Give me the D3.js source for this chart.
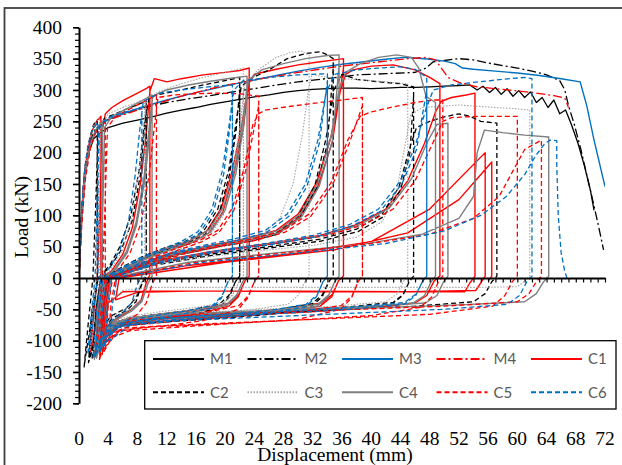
<!DOCTYPE html>
<html>
<head>
<meta charset="utf-8">
<script src="https://cdn.jsdelivr.net/npm/d3@7"></script>
<style>
  body { margin: 0; background: #fff; }
  svg { display: block; }
  .serif { font-family: "Liberation Serif", "DejaVu Serif", "Noto Serif", "Times New Roman", Times, serif; font-size: 19.5px; fill: #000; }
  .leg { font-family: Lato, "Open Sans", sans-serif; font-size: 15px; fill: #595959; }
</style>
</head>
<body>
<div id="plot"></div>
<script>
// Load-displacement curves, monotonic (M) and cyclic (C) specimens

const seriesNames = ["M1", "M2", "M3", "M4", "C1", "C2", "C3", "C4", "C5", "C6"];
const xTickValues = [0, 4, 8, 12, 16, 20, 24, 28, 32, 36, 40, 44, 48, 52, 56, 60, 64, 68, 72];
const yTickValues = [-200, -150, -100, -50, 0, 50, 100, 150, 200, 250, 300, 350, 400];

// [displacement mm, load kN]
const m1 = [[0,0],[0.3,80],[0.7,150],[1.2,195],[2,222],[3,232],[4,240],[6,247],[8,252],[10,257],[12,263],[14,268],[16,272],[18,277],[20,281],[22,285],[24,289],[26,292],[28,296],[30,299],[32,301],[34,302],[36,303],[38,303],[40,302],[42,303],[44,304],[46,304],[48,305],[50,306],[52,307],[53.5,308],[54.5,300],[55.3,306],[56.2,296],[57,304],[57.8,293],[58.6,302],[59.4,290],[60.2,299],[61,288],[61.8,297],[62.6,280],[63.4,288],[64.2,272],[65,284],[65.8,262],[66.6,268],[67.4,245],[68.3,215],[69.2,178],[70,140],[70.5,108]];

const m2 = [[0,0],[0.3,90],[0.7,160],[1.3,210],[2.2,238],[3.8,252],[6,262],[9.3,273],[12,280],[15,286],[18,291],[21,297],[24,302],[27,308],[30,313],[33,317],[35.3,320],[38,324],[42,326],[46,328],[47.5,335],[48.5,345],[50,347],[52,350],[54,348],[56,343],[58,339],[60,335],[62,330],[64,324],[65.8,315],[66.5,300],[67,275],[67.8,245],[68.7,205],[69.6,160],[70.5,115],[71.2,78],[71.8,45]];

const m3 = [[0,0],[0.3,95],[0.8,175],[1.5,215],[2.5,240],[4,253],[6,262],[9,274],[12,284],[15,293],[18,301],[21,309],[24,316],[27,323],[30,330],[33,336],[36,341],[39,345],[42,349],[44.5,352],[46,351],[48,349],[50,346],[51.5,342],[52.5,335],[54,333],[57,330],[60,327],[63,323],[66,318],[68.6,313],[69.5,275],[70.5,220],[72,146]];

const m4 = [[0,0],[0.4,100],[0.9,170],[1.6,215],[2.6,240],[4,252],[7,264],[10,276],[14,290],[18,302],[22,312],[26,320],[30,328],[34,335],[38,341],[42,346],[45,350],[47.5,352],[48.8,348],[49.6,335],[50.5,320],[52,312],[54.5,305],[58,301],[62,296],[65,291],[66.5,287],[67,272]];

const c1 = [[0,0],[0.3,90],[0.7,160],[1.2,205],[1.8,235],[2.4,250],[3.0,258],
  [3.0,0],[2.7,-25],[2.3,-70],[1.9,-105],[1.6,-118],
  [2.0,-60],[2.5,0],[2.9,120],[3.1,230],[3.6,262],[4.5,272],[6,283],[8,295],[9.3,303],[9.7,306],
  [9.7,5],[9.2,-8],[8.5,-35],[7.2,-50],[5.5,-62],[4,-75],[3,-95],[2.3,-122],
  [2.6,-50],[3.1,0],[4.5,12],[6,38],[7.3,80],[8.4,150],[9.2,230],[9.7,298],[10.3,318],[11,316],[12,313],[14,318],[17,324],[20,328],[22,331],[23.3,335],
  [23.3,3],[22.7,-5],[21.8,-30],[20.5,-45],[17,-55],[12,-62],[8,-68],[5,-75],[3.5,-90],[2.6,-118],
  [2.9,-50],[3.4,0],[6.2,13],[9.2,31],[12.2,44],[15.2,55],[17.7,71],[19.7,106],[21.2,165],[22.5,240],[23.3,318],
  [23.3,3],[22.7,-5],[21.9,-26],[20.7,-40],[17,-50],[12,-57],[8,-63],[5,-70],[3.5,-86],[2.7,-112],
  [2.9,-50],[3.4,0],[6,14],[9,33],[12,47],[15,58],[17.5,75],[19.5,112],[21,172],[22.3,245],[23.2,310],[24,325],[27,333],[30,340],[33,345],[35,348],[36.2,350],
  [36.2,3],[35.5,-5],[34.6,-30],[33,-45],[28,-55],[20,-62],[12,-68],[6,-75],[4,-88],[2.8,-115],
  [3.1,-45],[3.6,0],[8.2,20],[13.2,37],[18.2,49],[23.2,60],[27.2,72],[30.2,97],[32.7,146],[34.7,218],[36.2,335],
  [36.2,3],[35.5,-5],[34.7,-26],[33.2,-40],[28,-50],[20,-57],[12,-63],[6,-70],[4,-84],[2.9,-110],
  [3.1,-45],[3.6,0],[8,22],[13,40],[18,52],[23,63],[27,76],[30,102],[32.5,152],[34.5,225],[35.8,300],[36.5,325],[37.5,332],[40,338],[43,340],[46,332],[48,320],[49.4,310],
  [49.4,3],[48.6,-5],[47.6,-28],[46,-40],[40,-48],[30,-55],[20,-60],[10,-66],[5,-74],[3.2,-105],
  [3.5,-40],[4,0],[10,25],[18,42],[26,55],[33,68],[38,85],[42,110],[45,155],[47.3,215],[48.8,265],[49.6,282],[51,288],[53,292],[54.2,295],
  [54.2,3],[53.5,-8],[52.8,-22],[50,-22],[40,-22],[30,-22],[20,-21],[10,-21],[6,-22],[4,-40],[3.6,-70],
  [4,-20],[4.4,0],[15,20],[30,40],[40,58],[48,110],[55.6,200],
  [55.6,3],[55,-8],[54.3,-20],[45,-22],[30,-21],[15,-21],[8,-23],[5,-35],
  [5.5,0],[20,25],[35,45],[45,72],[52,125],[56.5,185],
  [56.5,3],[56,-5]];

const c2 = [[0,0],[0.2,60],[0.5,130],[0.9,185],[1.5,225],[2.0,245],[2.5,252],
  [2.5,0],[2.1,-30],[1.5,-80],[0.9,-125],[0.7,-142],
  [1.2,-80],[1.9,0],[2.3,120],[2.6,235],[3.5,255],[5,262],[7,272],[9.2,282],
  [9.2,3],[8.6,-10],[7.8,-38],[6.5,-52],[4.5,-65],[3,-85],[1.8,-115],[1.3,-135],
  [1.8,-60],[2.6,0],[4.3,18],[5.8,45],[7.3,92],[8.4,165],[9.2,265],
  [9.2,3],[8.6,-8],[7.8,-32],[6.5,-48],[4.5,-60],[3,-80],[1.8,-112],[1.4,-128],
  [1.8,-60],[2.6,0],[4.2,20],[5.6,50],[7.1,100],[8.2,170],[9,250],[9.6,288],[11,293],[14,300],[17,308],[20,315],[22,320],
  [22,3],[21.4,-6],[20.6,-30],[19.4,-45],[16,-58],[11,-66],[7,-72],[4.5,-80],[3,-98],[1.8,-128],
  [2.3,-50],[3,0],[5.8,14],[8.8,30],[11.8,44],[14.8,55],[17.3,70],[19.2,104],[20.6,165],[21.5,235],[22,300],
  [22,3],[21.4,-6],[20.5,-28],[19.2,-42],[15,-52],[10,-59],[6.5,-65],[4.3,-74],[3,-92],[2,-122],
  [2.3,-50],[3,0],[5.5,15],[8.5,33],[11.5,47],[14.5,58],[17,74],[19,110],[20.5,172],[21.4,240],[22.2,305],[23.5,318],[26,332],[28.5,350],[31,358],[33,361],[34,356],[34.8,350],
  [34.8,3],[34.2,-6],[33.3,-30],[31.8,-45],[27,-57],[20,-64],[12,-70],[6,-76],[3.8,-92],[2.3,-125],
  [2.8,-50],[3.4,0],[8.2,19],[13.2,36],[18.2,48],[23.2,58],[27.2,70],[30.2,95],[32.5,143],[34,215],[34.8,335],
  [34.8,3],[34.2,-6],[33.3,-27],[31.9,-41],[27,-51],[20,-58],[12,-64],[6,-70],[3.8,-86],[2.4,-120],
  [2.8,-50],[3.4,0],[8,20],[13,38],[18,50],[23,60],[27,72],[30,98],[32.3,148],[33.8,222],[34.9,300],[36,325],[38,317],[41,313],[44,310],[45.8,305],
  [45.8,3],[45.2,-6],[44.3,-28],[42.8,-42],[36,-50],[26,-56],[16,-62],[8,-68],[4.5,-78],[3,-110],
  [3.4,-40],[4,0],[10.2,20],[18.2,36],[26.2,48],[33.2,59],[38.2,74],[41.7,98],[44,140],[45.3,200],[45.8,290],
  [45.8,3],[45.2,-6],[44.4,-26],[43,-39],[36,-47],[26,-53],[16,-59],[8,-65],[4.5,-75],[3.1,-105],
  [3.4,-40],[4,0],[10,22],[18,38],[26,50],[33,62],[38,78],[41.5,102],[43.8,145],[45.2,205],[46.2,240],[48,250],[50,257],[52,262],[53.5,258],[55,250],[57.2,247],
  [57.2,3],[56.5,-6],[55.6,-25],[54,-38],[46,-45],[36,-50],[24,-55],[12,-60],[6,-68],[4,-85]];

const c3 = [[0,0],[0.3,90],[0.7,160],[1.3,215],[2,243],[2.8,256],
  [2.8,0],[2.4,-30],[1.9,-85],[1.5,-115],
  [1.9,-50],[2.4,0],[2.7,140],[3,245],[4,262],[6,272],[9,285],
  [9,3],[8.4,-10],[7.6,-36],[6.3,-50],[4.5,-62],[3.2,-82],[2.2,-115],
  [2.6,-50],[3.2,0],[4.6,18],[6,45],[7.2,95],[8.2,170],[8.8,240],[9.3,285],[11,298],[14,310],[17,320],[20,328],[22.5,335],
  [22.5,3],[21.9,-6],[21,-28],[19.8,-42],[16,-50],[11,-57],[7,-64],[4.5,-72],[3.2,-92],[2.4,-120],
  [2.8,-50],[3.4,0],[6.2,14],[9.2,28],[12.2,41],[15.2,51],[17.7,65],[19.7,98],[21.2,160],[22.1,235],[22.5,300],
  [22.5,3],[21.9,-6],[21.1,-25],[19.9,-39],[16,-47],[11,-54],[7,-61],[4.5,-69],[3.2,-88],[2.5,-115],
  [2.8,-50],[3.4,0],[6,15],[9,30],[12,43],[15,53],[17.5,68],[19.5,102],[21,165],[22,240],[22.7,310],[24.5,332],[27,352],[29,360],[30.5,362],[31.5,355],
  [31.5,3],[30.9,-6],[30,-28],[28.6,-42],[24,-50],[17,-57],[10,-64],[5,-72],[3.5,-90],[2.5,-118],
  [2.9,-45],[3.5,0],[8,20],[13,36],[18,46],[22,56],[25,68],[27.5,95],[29.3,150],[30.6,230],[31.4,300],[31.9,325],[33,322],[36,318],[40,315],[43,312],[45,310],
  [45,3],[44.4,-6],[43.5,-26],[42,-38],[35,-45],[25,-50],[15,-56],[8,-62],[4.5,-72],[3,-100],
  [3.4,-40],[4,0],[12,25],[22,40],[32,52],[38,65],[41.5,90],[43.5,140],[44.6,210],[45.4,260],[47,272],[52,276],[57,272],[60,270],[61.7,268],
  [61.7,3],[61,-5],[60,-14],[55,-15],[45,-15],[35,-15],[25,-15],[15,-15],[10,-15],[6,-20],[4,-40]];

const c4 = [[0,0],[0.3,80],[0.8,155],[1.4,205],[2.2,235],[3.2,250],
  [3.2,0],[2.9,-30],[2.5,-80],[2.2,-120],[2.1,-130],
  [2.5,-60],[3,0],[3.3,130],[3.5,240],[4.5,258],[6.5,270],[8.5,282],[10,292],
  [10,3],[9.4,-10],[8.6,-38],[7.3,-52],[5.5,-64],[4,-80],[2.9,-105],[2.4,-128],
  [2.8,-55],[3.4,0],[5.1,15],[6.6,40],[7.9,85],[9,155],[9.7,232],[10,285],
  [10,3],[9.4,-9],[8.7,-34],[7.4,-48],[5.5,-60],[4,-76],[3,-100],[2.5,-124],
  [2.8,-55],[3.4,0],[5,16],[6.5,42],[7.8,88],[8.9,160],[9.6,240],[10.1,290],[12,300],[15,308],[18,314],[21,319],[23,322],
  [23,3],[22.4,-6],[21.5,-30],[20.2,-44],[16,-54],[11,-61],[7,-67],[4.5,-76],[3.3,-96],[2.4,-125],
  [2.9,-50],[3.5,0],[6.4,15],[9.4,32],[12.4,45],[15.4,57],[18,73],[20,108],[21.5,168],[22.5,240],[23,310],
  [23,3],[22.4,-6],[21.6,-27],[20.3,-41],[16,-51],[11,-58],[7,-64],[4.5,-73],[3.3,-92],[2.5,-120],
  [2.9,-50],[3.5,0],[6.2,16],[9.2,34],[12.2,48],[15.2,60],[17.8,77],[19.8,114],[21.3,175],[22.4,248],[23.2,315],[25,332],[28,342],[31,350],[34,355],[35.6,356],
  [35.6,3],[35,-6],[34.1,-30],[32.6,-45],[27,-54],[19,-60],[11,-66],[6,-73],[4,-88],[2.7,-118],
  [3.1,-45],[3.7,0],[8.5,20],[13.5,38],[18.5,50],[23.5,60],[27.5,73],[30.5,98],[32.9,147],[34.7,220],[35.6,340],
  [35.6,3],[35,-6],[34.2,-27],[32.7,-42],[27,-51],[19,-57],[11,-63],[6,-70],[4,-85],[2.8,-114],
  [3.1,-45],[3.7,0],[8.3,22],[13.3,40],[18.3,52],[23.3,63],[27.3,76],[30.3,102],[32.7,152],[34.5,226],[35.6,300],[36.5,328],[38.5,342],[41,352],[43.5,356],[45.5,352],[46.5,335],[47.5,290],[48.8,280],
  [48.8,3],[48.2,-6],[47.3,-28],[45.7,-40],[38,-47],[28,-53],[18,-58],[9,-64],[5,-72],[3.3,-102],
  [3.6,-40],[4.2,0],[10.5,25],[18.5,42],[26.5,55],[33.5,68],[38.5,85],[42.5,112],[45.5,158],[47.6,215],[49,245],[50.5,247],
  [50.5,3],[49.9,-6],[49,-28],[47.4,-40],[38,-46],[26,-52],[15,-57],[8,-63],[4.5,-72],[3.4,-100],
  [3.8,-40],[4.4,0],[15,25],[27,40],[39,54],[47,70],[52,95],[54,130],[54.5,200],[55.5,236],[58,232],[61,228],[64.3,225],
  [64.3,3],[63.6,-6],[62.6,-25],[61,-38],[52,-43],[40,-48],[28,-52],[15,-58],[7,-63],[4.5,-75]];

const c5 = [[0,0],[0.4,90],[0.9,160],[1.6,210],[2.5,238],[3.6,250],
  [3.6,0],[3.2,-30],[2.8,-80],[2.4,-115],[2.2,-126],
  [2.7,-55],[3.2,0],[3.6,130],[3.9,240],[5,258],[7,270],[9,282],[10.6,292],
  [10.6,3],[10,-10],[9.2,-40],[8,-58],[6,-72],[4.5,-86],[3.4,-108],[2.8,-128],
  [3.2,-55],[3.8,0],[5.5,15],[7,40],[8.5,88],[9.6,165],[10.3,240],[10.8,288],[13,292],[16,294],[19,295],[22,294],[24.6,290],
  [24.6,3],[24,-6],[23.1,-32],[21.8,-50],[17,-68],[12,-76],[8,-80],[5,-86],[3.6,-104],[2.8,-130],
  [3.3,-55],[3.9,0],[7.2,14],[10.7,32],[13.7,45],[16.7,57],[19.2,73],[21.2,108],[22.8,170],[24,240],[24.6,275],
  [24.6,3],[24,-6],[23.2,-28],[21.9,-44],[17,-56],[12,-64],[8,-70],[5,-78],[3.6,-98],[2.9,-126],
  [3.3,-55],[3.9,0],[7,15],[10.5,34],[13.5,48],[16.5,60],[19,76],[21,112],[22.6,175],[23.8,245],[24.6,262],[25.5,268],[29,274],[33,280],[36,284],[38.8,288],
  [38.8,3],[38.2,-6],[37.3,-32],[35.8,-50],[30,-66],[22,-72],[14,-78],[7,-84],[4.5,-95],[3.2,-122],
  [3.6,-50],[4.2,0],[9.2,20],[14.2,38],[19.2,50],[24.2,60],[28.2,73],[31.7,98],[34.7,148],[37,215],[38.8,275],
  [38.8,3],[38.2,-6],[37.4,-28],[35.9,-44],[30,-54],[22,-61],[14,-68],[7,-76],[4.5,-88],[3.3,-118],
  [3.6,-50],[4.2,0],[9,22],[14,40],[19,52],[24,63],[28,76],[31.5,102],[34.5,152],[36.8,220],[38.5,258],[40,265],[43,273],[46,280],[48.5,284],[49.8,284],
  [49.8,3],[49.2,-6],[48.3,-30],[46.7,-47],[40,-60],[30,-67],[20,-73],[10,-78],[5.5,-84],[3.6,-110],
  [4,-45],[4.6,0],[11,25],[19,42],[27,55],[34,68],[39,85],[43,110],[46,155],[48.3,212],[49.8,250],[51,256],[55,258],[58,258],[60,258],
  [60,3],[59.3,-6],[58.3,-28],[56.6,-45],[48,-58],[36,-64],[24,-70],[12,-76],[6,-80],[4,-100],
  [4.4,-40],[5,0],[16,25],[28,40],[40,55],[48,70],[54,95],[57.5,130],[59.6,175],[61,205],[63.3,220],
  [63.3,3],[62.6,-6],[61.6,-25],[60,-38],[50,-45],[38,-50],[26,-55],[14,-60],[7,-68],[4.5,-85]];

const c6 = [[0,0],[0.3,95],[0.7,165],[1.2,210],[1.9,238],[2.6,248],
  [2.6,0],[2.2,-30],[1.8,-80],[1.4,-112],[1.2,-122],
  [1.7,-55],[2.2,0],[2.5,130],[2.8,240],[3.8,255],[5.5,262],[7,267],[8.6,272],
  [8.6,3],[8,-10],[7.2,-40],[6,-55],[4.5,-68],[3.2,-88],[2.2,-118],[1.9,-128],
  [2.4,-55],[3,0],[4.3,18],[5.6,45],[6.8,92],[7.7,165],[8.3,235],[8.8,282],[11,295],[14,300],[17,304],[19.5,307],[21,308],
  [21,3],[20.4,-6],[19.5,-32],[18.2,-48],[14,-58],[10,-65],[6.5,-72],[4.2,-82],[3,-104],[2.2,-126],
  [2.7,-55],[3.3,0],[5.9,14],[8.7,31],[11.5,44],[14.2,55],[16.5,71],[18.4,106],[19.8,165],[20.6,235],[21,292],
  [21,3],[20.4,-6],[19.6,-28],[18.3,-44],[14,-54],[10,-61],[6.5,-68],[4.2,-78],[3,-100],[2.3,-122],
  [2.7,-55],[3.3,0],[5.7,15],[8.5,33],[11.3,46],[14,58],[16.3,74],[18.2,110],[19.6,170],[20.5,240],[21.2,300],[22.5,315],[26,320],[30,324],[34,326],
  [34,3],[33.4,-6],[32.5,-30],[31,-46],[26,-56],[19,-63],[11,-69],[6,-76],[4,-90],[2.8,-120],
  [3.2,-50],[3.8,0],[8.2,20],[12.7,38],[17.2,50],[21.7,60],[25.7,73],[28.7,98],[31.2,146],[32.9,215],[34,315],
  [34,3],[33.4,-6],[32.6,-27],[31.1,-42],[26,-52],[19,-59],[11,-65],[6,-72],[4,-86],[2.9,-116],
  [3.2,-50],[3.8,0],[8,22],[12.5,40],[17,52],[21.5,63],[25.5,76],[28.5,102],[31,150],[32.7,220],[33.8,295],[35,325],[38,332],[41,335],[44,337],[46,333],[47.6,320],
  [47.6,3],[47,-6],[46.1,-28],[44.5,-42],[37,-50],[27,-57],[17,-63],[9,-70],[5,-80],[3.5,-108],
  [3.9,-45],[4.5,0],[10.7,23],[18.2,40],[25.7,52],[32.2,65],[37.2,82],[41.2,106],[44.2,150],[46.2,205],[47.6,300],
  [47.6,3],[47,-6],[46.2,-25],[44.6,-39],[37,-47],[27,-54],[17,-60],[9,-67],[5,-77],[3.6,-104],
  [3.9,-45],[4.5,0],[10.5,25],[18,42],[25.5,55],[32,68],[37,85],[41,110],[44,155],[46,210],[47.5,270],[48.5,300],[51,308],[54,312],[58,317],[61,320],[62,318],
  [62,3],[61.3,-6],[60.3,-28],[58.6,-42],[50,-50],[38,-56],[26,-62],[14,-68],[7,-75],[4.2,-100],
  [4.6,-40],[5.2,0],[17,25],[30,40],[42,55],[50,75],[55,100],[58.5,130],[61,165],[62.5,195],[63.8,215],[64.5,220],[65.4,219],
  [65.4,180],[65.6,100],[66,40],[66.5,10],[66.8,0]];

const seriesData = [m1, m2, m3, m4, c1, c2, c3, c4, c5, c6];

// line styles, same order as seriesNames
const styles = [
  {color: "#000000", dash: null,          width: 1.3},
  {color: "#000000", dash: "9,3,2,3",     width: 1.3},
  {color: "#0070C0", dash: null,          width: 1.4},
  {color: "#FF0000", dash: "9,3,2,3",     width: 1.3},
  {color: "#FF0000", dash: null,          width: 1.4},
  {color: "#000000", dash: "5,3",         width: 1.3},
  {color: "#A6A6A6", dash: "1.5,1.5",     width: 1.1},
  {color: "#7F7F7F", dash: null,          width: 1.4},
  {color: "#FF0000", dash: "5,3",         width: 1.3},
  {color: "#0070C0", dash: "5,3",         width: 1.3}
];

const width = 622, height = 465;
const serifFamily = "'Liberation Serif', 'DejaVu Serif', 'Noto Serif', 'Times New Roman', Times, serif";

const x = d3.scaleLinear().domain([0, 72]).range([79, 605]);
const y = d3.scaleLinear().domain([-200, 400]).range([403.3, 27.3]);

const svg = d3.select("#plot").append("svg")
  .attr("width", width)
  .attr("height", height);

// outer chart frame (runs off the right and bottom edges)
svg.append("rect")
  .attr("x", 4.5).attr("y", 8)
  .attr("width", 700).attr("height", 520)
  .attr("fill", "none")
  .attr("stroke", "#3f3f3f")
  .attr("stroke-width", 1.8);

svg.append("clipPath").attr("id", "plotClip")
  .append("rect")
  .attr("x", x(0)).attr("y", y(400))
  .attr("width", x(72) - x(0)).attr("height", y(-200) - y(400));

// curves
const line = d3.line()
  .x(d => x(d[0]))
  .y(d => y(d[1]));

const curves = svg.append("g").attr("clip-path", "url(#plotClip)");
seriesData.forEach((data, i) => {
  curves.append("path")
    .datum(data)
    .attr("d", line)
    .attr("fill", "none")
    .attr("stroke", styles[i].color)
    .attr("stroke-width", styles[i].width)
    .attr("stroke-dasharray", styles[i].dash)
    .attr("stroke-linejoin", "round");
});

// Y axis: minor ticks every 10 kN, major every 50
const yMinor = d3.range(-200, 401, 10);
svg.append("g")
  .attr("transform", "translate(" + x(0) + ",0)")
  .call(d3.axisLeft(y).tickValues(yMinor).tickSize(4).tickSizeOuter(0).tickFormat(""))
  .call(g => g.select(".domain").remove())
  .selectAll("line").attr("stroke-width", 1.2);

svg.append("g")
  .attr("transform", "translate(" + x(0) + ",0)")
  .call(d3.axisLeft(y).tickValues(yTickValues).tickSize(6).tickSizeOuter(0).tickPadding(11)
    .tickFormat(d => String(d)))
  .call(g => g.select(".domain").attr("stroke-width", 2))
  .call(g => g.selectAll("line").attr("stroke-width", 1.6))
  .call(g => g.attr("font-family", null).attr("font-size", null))
  .selectAll("text")
    .attr("class", "serif")
    .style("font-family", serifFamily);

// X axis at zero load: ticks every mm, labels kept low
const xMinor = d3.range(0, 73, 1);
svg.append("g")
  .attr("transform", "translate(0," + y(0) + ")")
  .call(d3.axisBottom(x).tickValues(xMinor).tickSize(4.5).tickSizeOuter(0).tickFormat(""))
  .call(g => g.select(".domain").attr("stroke-width", 2))
  .selectAll("line").attr("stroke-width", 1.2);

svg.append("g")
  .selectAll("text")
  .data(xTickValues)
  .enter()
  .append("text")
    .attr("class", "serif")
    .style("font-family", serifFamily)
    .attr("x", d => x(d))
    .attr("y", 445)
    .attr("text-anchor", "middle")
    .text(d => d);

// axis titles
svg.append("text")
  .attr("class", "serif")
  .style("font-family", serifFamily)
  .attr("transform", "translate(27.5,217) rotate(-90)")
  .attr("text-anchor", "middle")
  .text("Load (kN)");

svg.append("text")
  .attr("class", "serif")
  .style("font-family", serifFamily)
  .attr("x", 335)
  .attr("y", 461)
  .attr("text-anchor", "middle")
  .text("Displacement (mm)");

// legend
const legend = svg.append("g");
legend.append("rect")
  .attr("x", 144.7).attr("y", 340.7)
  .attr("width", 471.3).attr("height", 68.3)
  .attr("fill", "#fff")
  .attr("stroke", "#000")
  .attr("stroke-width", 1.3);

const colX = [153, 247.5, 342, 436.5, 531];
const rowY = [359, 392.3];

seriesNames.forEach((name, i) => {
  const lx = colX[i % 5], ly = rowY[Math.floor(i / 5)];
  legend.append("line")
    .attr("x1", lx).attr("x2", lx + 51)
    .attr("y1", ly).attr("y2", ly)
    .attr("stroke", styles[i].color)
    .attr("stroke-width", 2)
    .attr("stroke-dasharray", styles[i].dash);
  legend.append("text")
    .attr("class", "leg")
    .attr("x", lx + 57)
    .attr("y", ly)
    .attr("dy", "0.35em")
    .text(name);
});
</script>
</body>
</html>
